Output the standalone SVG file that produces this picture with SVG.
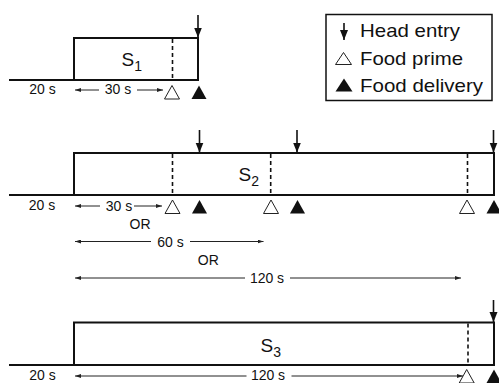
<svg xmlns="http://www.w3.org/2000/svg" width="499" height="383" viewBox="0 0 499 383">
<style>
.ln{fill:none;stroke:#111;stroke-width:2}
.dash{fill:none;stroke:#111;stroke-width:1.6;stroke-dasharray:4 3}
.he{fill:none;stroke:#111;stroke-width:1.6;marker-end:url(#hd)}
.ar{fill:none;stroke:#222;stroke-width:1;marker-end:url(#sm)}
.lab{font-family:"Liberation Sans",Arial,sans-serif;font-size:14px;fill:#111;text-anchor:middle}
.leg{font-family:"Liberation Sans",Arial,sans-serif;font-size:18.5px;fill:#111}
.st{font-family:"Liberation Sans",Arial,sans-serif;font-size:19px;fill:#111}
.op{fill:#fff;stroke:#222;stroke-width:1}
.fl{fill:#111;stroke:none}
</style>
<defs>
<marker id="hd" markerUnits="userSpaceOnUse" markerWidth="10" markerHeight="10" viewBox="0 0 10 8" refX="10" refY="4" orient="auto"><path d="M0,0 L10,4 L0,8 Z" fill="#111"/></marker>
<marker id="sm" markerUnits="userSpaceOnUse" markerWidth="6" markerHeight="4" viewBox="0 0 6 4" refX="6" refY="2" orient="auto"><path d="M0,0 L6,2 L0,4 Z" fill="#222"/></marker>
<polygon id="to" points="-7.5,13.5 7.5,13.5 0,0"/>
</defs>

<g id="legend">
<rect x="326" y="14.5" width="166" height="86" fill="none" stroke="#111" stroke-width="1.5"/>
<line class="he" x1="344" y1="23" x2="344" y2="40"/>
<polygon class="op" points="335.5,64.5 351.5,64.5 343.5,52.5"/>
<polygon class="fl" points="335.5,91.5 352.5,91.5 344,78.5"/>
<text class="leg" x="360" y="37" textLength="100" lengthAdjust="spacingAndGlyphs">Head entry</text>
<text class="leg" x="360" y="65" textLength="103" lengthAdjust="spacingAndGlyphs">Food prime</text>
<text class="leg" x="360" y="91.5" textLength="123" lengthAdjust="spacingAndGlyphs">Food delivery</text>
</g>

<g id="s1">
<path class="ln" d="M9,80 H198 V38 H74 V80"/>
<line class="dash" x1="172.5" y1="39" x2="172.5" y2="80"/>
<text class="st" x="121.5" y="65.5">S<tspan font-size="14" dy="5">1</tspan></text>
<use href="#to" class="op" x="172" y="85.5"/>
<use href="#to" class="fl" x="199" y="85.5"/>
</g>

<g id="s2">
<path class="ln" d="M9,195 H494 V153 H74 V195"/>
<line class="dash" x1="172.5" y1="154" x2="172.5" y2="195"/>
<line class="dash" x1="270.7" y1="154" x2="270.7" y2="195"/>
<line class="dash" x1="467.5" y1="154" x2="467.5" y2="195"/>
<text class="st" x="238.5" y="180.5">S<tspan font-size="14" dy="5">2</tspan></text>
<use href="#to" class="op" x="172.5" y="200"/>
<use href="#to" class="fl" x="199.5" y="200"/>
<use href="#to" class="op" x="271" y="200"/>
<use href="#to" class="fl" x="297.5" y="200"/>
<use href="#to" class="op" x="467" y="200"/>
<use href="#to" class="fl" x="494" y="200"/>
</g>

<g id="s3">
<path class="ln" d="M9,365 H494 V322.5 H74 V365"/>
<line class="dash" x1="468" y1="323.5" x2="468" y2="365"/>
<text class="st" x="260.5" y="352">S<tspan font-size="14" dy="5">3</tspan></text>
<use href="#to" class="op" x="466.7" y="369.5"/>
<use href="#to" class="fl" x="494" y="369.5"/>
</g>

<g id="connectors">
<line class="he" x1="198" y1="15" x2="198" y2="37.5"/>
<line class="he" x1="199.5" y1="130" x2="199.5" y2="152.5"/>
<line class="he" x1="297" y1="130" x2="297" y2="152.5"/>
<line class="he" x1="493.5" y1="130" x2="493.5" y2="152.5"/>
<line class="he" x1="493.5" y1="300" x2="493.5" y2="322"/>

<line class="ar" x1="99" y1="90" x2="75" y2="90"/>
<line class="ar" x1="137" y1="90" x2="163" y2="90"/>

<line class="ar" x1="100" y1="206" x2="75" y2="206"/>
<line class="ar" x1="134" y1="206" x2="162" y2="206"/>
<line class="ar" x1="151" y1="241.5" x2="75" y2="241.5"/>
<line class="ar" x1="190" y1="241.5" x2="263.5" y2="241.5"/>
<line class="ar" x1="245" y1="278" x2="75" y2="278"/>
<line class="ar" x1="290" y1="278" x2="461" y2="278"/>

<line class="ar" x1="246.5" y1="376" x2="75" y2="376"/>
<line class="ar" x1="291.5" y1="376" x2="463" y2="376"/>
</g>

<g id="labels">
<text class="lab" x="42.5" y="94">20 s</text>
<text class="lab" x="118" y="94">30 s</text>
<text class="lab" x="42" y="210">20 s</text>
<text class="lab" x="119" y="210.5">30 s</text>
<text class="lab" x="140" y="229">OR</text>
<text class="lab" x="170.5" y="246.5">60 s</text>
<text class="lab" x="208.3" y="264.5">OR</text>
<text class="lab" x="267" y="282.5">120 s</text>
<text class="lab" x="42.5" y="380">20 s</text>
<text class="lab" x="268" y="380">120 s</text>
</g>
</svg>
